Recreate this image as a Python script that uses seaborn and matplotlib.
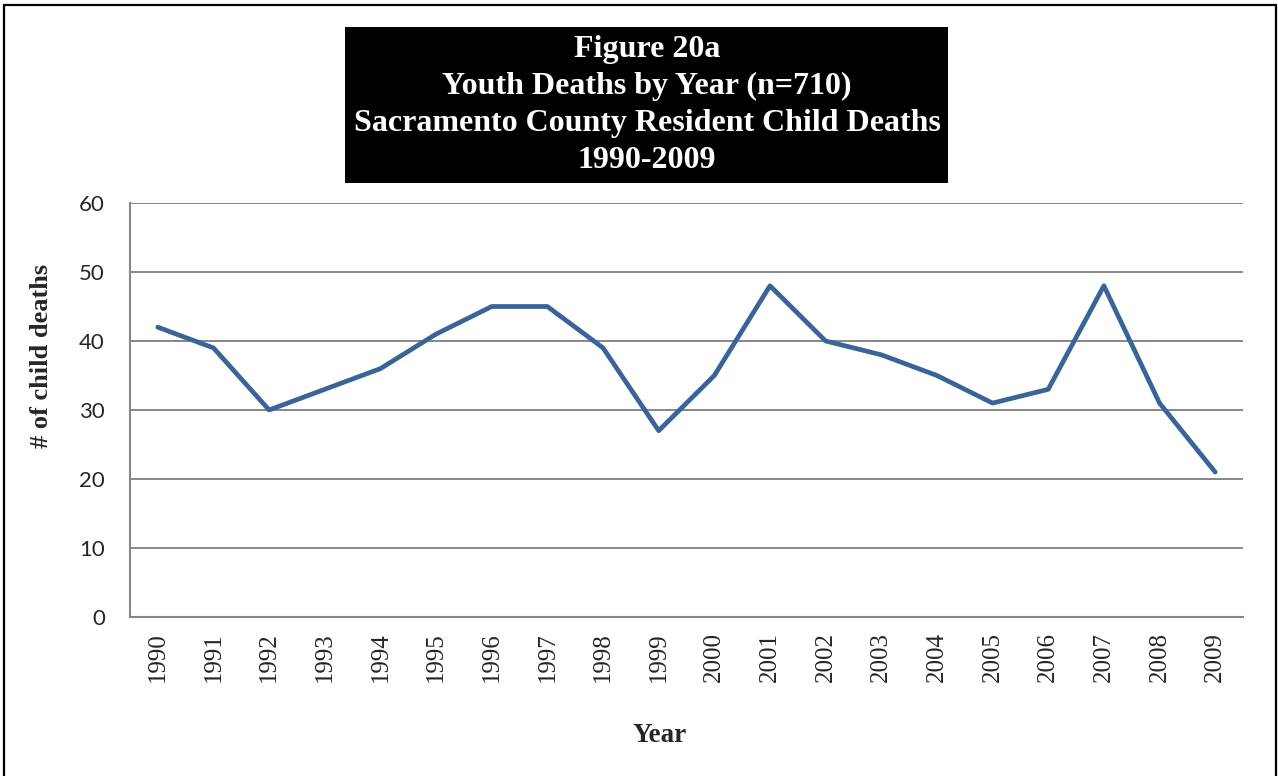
import numpy as np
import pandas as pd
import seaborn as sns
import matplotlib.pyplot as plt
from matplotlib.lines import Line2D
from matplotlib.patches import Rectangle

# valori
years = [str(y) for y in range(1990, 2010)]
deaths = [42, 39, 30, 33, 36, 41, 45, 45, 39, 27, 35, 48, 40, 38, 35, 31, 33, 48, 31, 21]
y_ticks = [0, 10, 20, 30, 40, 50, 60]
title_lines = ["Figure 20a", "Youth Deaths by Year (n=710)",
               "Sacramento County Resident Child Deaths", "1990-2009"]

df = pd.DataFrame({"year": years, "deaths": deaths})

sns.set_style("white")
serif = ["Liberation Serif", "DejaVu Serif"]
grey = "#868686"

fig = plt.figure(figsize=(12.78, 7.76), dpi=100)
ax = fig.add_axes([130 / 1278, 1 - 617 / 776, (1243 - 130) / 1278, (617 - 203) / 776])

sns.lineplot(data=df, x="year", y="deaths", ax=ax, color="#3A6497",
             linewidth=3.4, sort=False)

n = len(years)
ax.set_xlim(-0.5, n - 0.5)
ax.set_ylim(0, 60)
ax.set_yticks(y_ticks)
ax.set_yticklabels([str(t) for t in y_ticks], fontfamily="Lato", fontsize=16)

# tacche ai confini delle categorie, etichette al centro
ax.set_xticks(np.arange(-0.5, n, 1))
ax.set_xticklabels([])
ax.set_xticks(np.arange(n), minor=True)
ax.set_xticklabels(years, minor=True, rotation=90, fontfamily=serif, fontsize=18)
ax.tick_params(axis="x", which="major", length=7, width=1.3, color=grey, direction="out")
ax.tick_params(axis="x", which="minor", length=0, pad=11)
ax.tick_params(axis="y", length=7, width=1.3, color=grey, direction="out", pad=11)

ax.grid(axis="y", color=grey, linewidth=1.4)
ax.set_axisbelow(True)
for side in ["top", "right"]:
    ax.spines[side].set_visible(False)
for side in ["left", "bottom"]:
    ax.spines[side].set_color(grey)
    ax.spines[side].set_linewidth(1.5)

ax.set_xlabel("")
ax.set_ylabel("")
fig.text(42 / 1278, 1 - 356 / 776, "# of child deaths", rotation=90, ha="center",
         va="center", fontfamily=serif, fontweight="bold", fontsize=19)
fig.text(660 / 1278, 1 - 735 / 776, "Year", ha="center", va="center",
         fontfamily=serif, fontweight="bold", fontsize=19.5)

# riquadro titolo
fig.add_artist(Rectangle((345 / 1278, 1 - 183 / 776), (948 - 345) / 1278, (183 - 27) / 776,
                         transform=fig.transFigure, facecolor="black", edgecolor="none"))
fig.text(647 / 1278, 1 - 105 / 776, "\n".join(title_lines), ha="center", va="center",
         color="white", fontfamily=serif, fontweight="bold", fontsize=23, linespacing=1.37)

# bordo del grafico
for xs, ys in [([4, 4], [5, 776]), ([4, 1276], [5, 5]), ([1276, 1276], [5, 776])]:
    fig.add_artist(Line2D([x / 1278 for x in xs], [1 - y / 776 for y in ys],
                          transform=fig.transFigure, color="black", linewidth=1.6))

fig.savefig("out.png", dpi=100)
